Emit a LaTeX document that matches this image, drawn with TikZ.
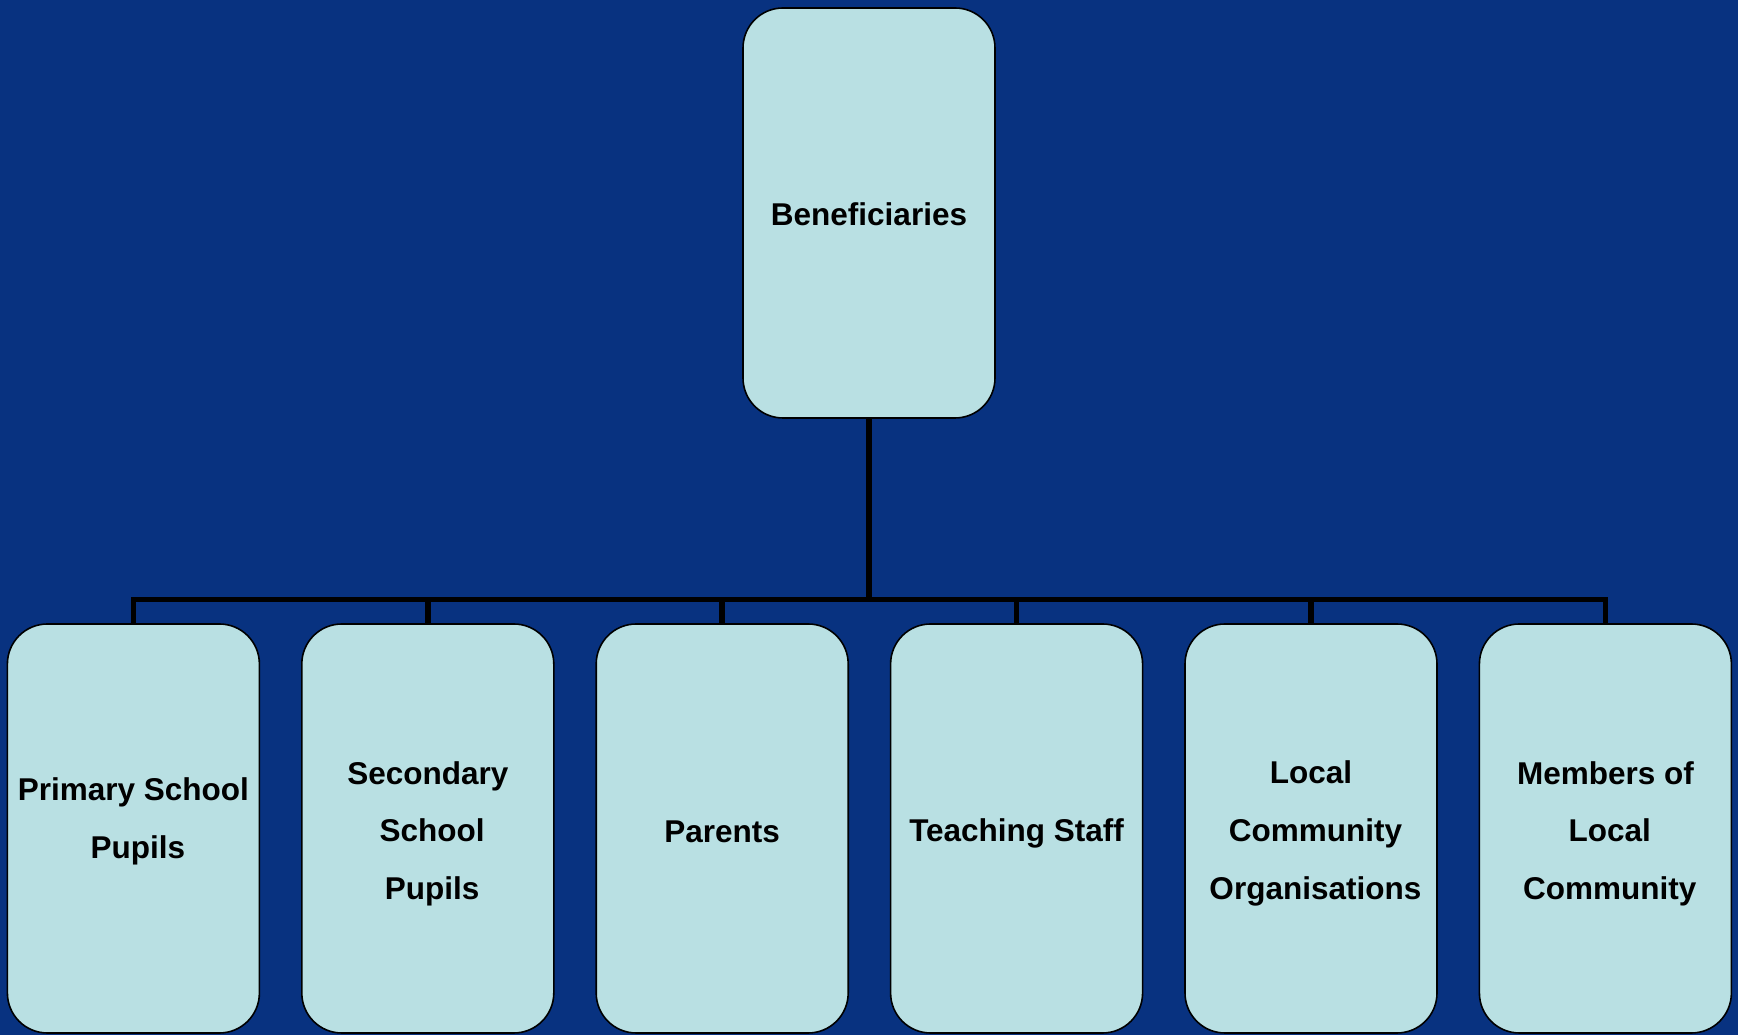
\documentclass[tikz,border=0pt]{standalone}
\usepackage{fontspec}
\setmainfont{Liberation Sans}
\definecolor{bgblue}{RGB}{8,50,128}
\definecolor{boxfill}{RGB}{185,224,227}
\begin{document}
\begin{tikzpicture}[x=1pt,y=1pt,
  card/.style={draw=black,line width=1.6pt,fill=boxfill,rounded corners=40pt,
    minimum width=252pt,minimum height=409pt,inner sep=0pt,outer sep=0pt},
  cardtext/.style={font=\fontsize{31.5}{57.6}\selectfont\bfseries,align=center,inner sep=0pt,text=black},
  wire/.style={draw=black,line width=5.5pt,line join=miter}]
\fill[bgblue] (0,0) rectangle (1738,1035);
\useasboundingbox (0,0) rectangle (1738,1035);
% top
\node[card,minimum height=410pt] (top) at (869,822) {};
\node[cardtext] (toptext) at ([yshift=-1pt]top.center) {Beneficiaries};
% bottom cards
\node[card] (c1) at (133.4,206.5) {};
\node[card] (c2) at (427.8,206.5) {};
\node[card] (c3) at (722.2,206.5) {};
\node[card] (c4) at (1016.6,206.5) {};
\node[card] (c5) at (1311,206.5) {};
\node[card] (c6) at (1605.4,206.5) {};
\node[cardtext] (t1) at ([yshift=7pt]c1.center) {Primary School\\\kern0.278em Pupils};
\node[cardtext] (t2) at ([yshift=-5pt]c2.center) {Secondary\\\kern0.278em School\\\kern0.278em Pupils};
\node[cardtext] (t3) at ([yshift=-3pt]c3.center) {Parents};
\node[cardtext] (t4) at ([yshift=-5pt]c4.center) {Teaching Staff};
\node[cardtext] (t5) at ([yshift=-5pt]c5.center) {Local\\\kern0.278em Community\\\kern0.278em Organisations};
\node[cardtext] (t6) at ([yshift=-5pt]c6.center) {Members of\\\kern0.278em Local\\\kern0.278em Community};
% connectors
\coordinate (bus) at (869,435.4);
\draw[wire] (top.south) -- (top.south |- bus);
\foreach \c in {c1,c2,c3,c4,c5,c6}{
  \draw[wire] (top.south |- bus) -| (\c.north);
}
\end{tikzpicture}
\end{document}
